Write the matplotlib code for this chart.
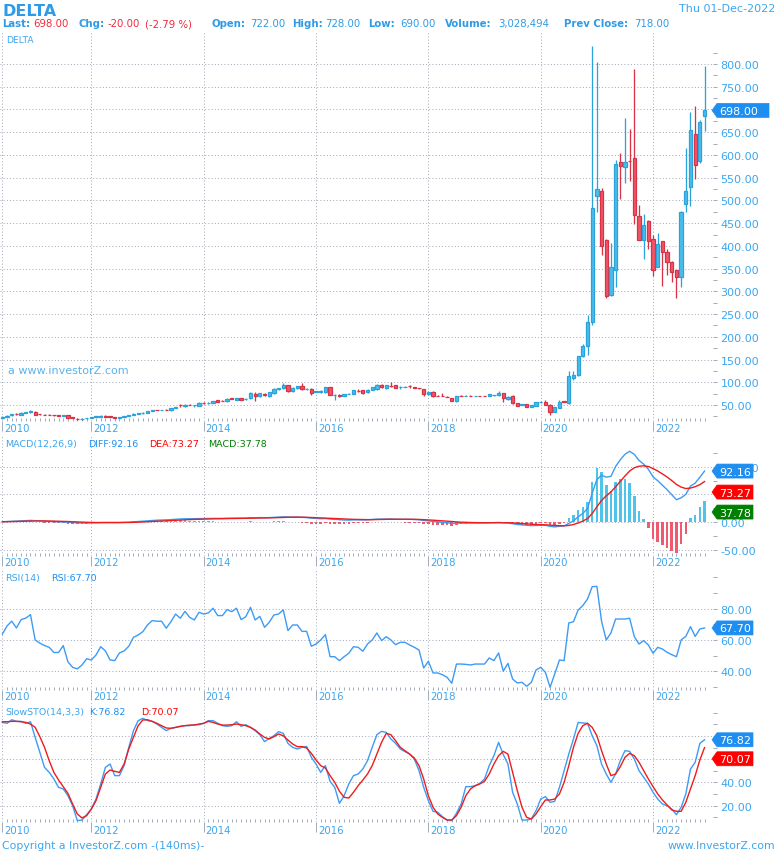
import numpy as np
import matplotlib
matplotlib.use("Agg")
import matplotlib.pyplot as plt
from matplotlib.patches import Polygon

plt.rcParams['font.family'] = ['DejaVu Sans']

# ---------------- data (monthly bars, Jun-2010 .. Dec-2022) ----------------
OPEN = [21,24,27,31,28,33,34,35,30,29,
        28.5,27.5,27,26,28,23,20,19,20.5,22,
        23,24,26.5,25.5,23,22,23,25.5,27.5,31,
        31.6,33,37,39.5,39,39.5,38,43,49.5,47,
        50.5,50,48,54.5,54,54,61,59.5,58,64.5,
        61,65,64,65,75,69,75,69,76,86,
        87,93,80,87,91,85.5,86,79.5,78,78,
        89,72.5,73,70,74.5,74,80.5,82,78,84,
        85,95,87.5,92,93,89.5,89.5,92.5,88.5,87.5,
        85,74,79,70.5,70.5,68,65,58,70.5,70,
        70.3,70,70.3,70.2,70.6,71,71,76,62.5,70,
        54,51,51.5,45.6,48.5,56,56,51,34.5,44,
        58,53.7,110,116,157,179,232,509,521,412,
        292.5,348,583.6,574,586.5,593,465,413,454,415,
        354,410,387,363.5,346.7,330.6,493,530,647,586,
        685]
HIGH = [25,27,31,32,34,35,39,36,31,30,
        29.5,28.5,28,29,29,24,21,21,21.5,24,
        25.5,27,27,26,23.5,24,26.5,28,31.5,33,
        34,37.5,40,40,40,40.5,43.5,46.5,52,52,
        51.5,51,56,55.5,55.5,59.5,61.5,60,64.5,65,
        65.5,65.5,65,79,79,77,76,79,87,87.5,
        99,94,89,92,99,88,87,81,82,90,
        90,75,74,74,76,83,86,83,85,90,
        96,96,94,101,94,91,91,95,90,88,
        86,80,80,72,76,69,66,70.5,71,71,
        71,70.8,70.8,70.8,74.5,72.5,80,77,69,71,
        55,52.5,52,50,57,59,61.5,52,46,61,
        58.5,125,125,157,184,248,839,804,528,415,
        406,589,604,681,657,789,489.5,471,456,423.6,
        428,410,393,366.5,347,475.6,615,693.6,707,677.5,
        796]
LOW = [20,23,26,29,27,32,33,27,28,27,
       27,26,25.5,25,21.5,20.5,18,18,19,21,
       22.5,23.5,23,22.5,21,21.5,22.5,25,27,30,
       31,32.5,36,38,38,38,37,42.5,46,46,
       49,45,47.5,53,53,53.5,56,58,57.5,63,
       60.5,61.5,60,64,58,67,70,68,75,84,
       86,79,79,86,84,84,72,78,77,77,
       71,61,68,69,73.5,73.5,79,75,77,83,
       84,88,86,90,87,85,88.5,87,87,85.5,
       70.6,73,67,69,69,66.5,58.5,57.5,69,69.5,
       69,69.5,69.5,69.3,70,70.5,70.5,56,62,53,
       47.5,50.5,45,44.5,48,55,49.5,27,34,43.5,
       56,53,104,113,156,161,226,474,380,285,
       290,310,503,538,543,448,413,371,394,334,
       353,312,336,319.6,286,310,473.5,488,548,582,
       653]
CLOSE = [24,26,31,30,33,34,37,28,29.5,28,
         28,27,26.5,28,22,21,19,19.5,21,23,
         25,26.5,24.5,23,22,23,25.7,27,31,31.6,
         33,37,39,39,39.2,39,43,46,49,51,
         50,50.5,55,54,54.5,59,57,59,64,64,
         65,62,64.2,77,70,76,71,78,86,86.5,
         93,80,88,91,85,86,76,80,81,89,
         72,73,69,73.5,75,82,80,76,84,89,
         95,89,93,91.5,87.5,90,90,92,88,87,
         74,79,70,70,70,67.5,59,70,70,70.3,
         70,70.3,70,70,74,71.5,77,65,68,54,
         48,51.5,45.6,49,56,56.6,50,34.5,45.6,56.6,
         57,113.7,116,157,179,232,484,526,400,290,
         352.6,580,576,585,586,468,413,445.6,411,347,
         404,387,363.5,343,330.6,473.4,519.7,655,578,671.6,
         698]

DIFF = [1.0,1.4,1.9,2.2,2.6,3.0,3.4,3.0,2.6,2.2,
        1.8,1.4,1.0,0.8,0.2,-0.3,-0.9,-1.2,-1.3,-1.2,
        -0.9,-0.6,-0.5,-0.5,-0.6,-0.5,-0.2,0.2,0.8,1.4,
        2.0,2.6,3.3,3.8,4.1,4.3,4.8,5.4,6.0,6.3,
        6.4,6.4,6.7,6.8,6.9,7.1,7.1,7.0,7.3,7.4,
        7.6,7.5,7.5,8.3,8.2,8.4,8.2,8.4,9.0,9.4,
        9.9,9.5,9.3,9.4,8.9,8.5,7.4,6.9,6.4,6.8,
        5.8,5.2,4.5,4.1,3.9,4.3,4.4,4.2,4.4,5.0,
        5.7,5.8,6.0,6.0,5.6,5.5,5.3,5.3,4.9,4.5,
        3.2,2.7,1.6,0.8,0.1,-0.6,-1.8,-1.6,-1.5,-1.4,
        -1.4,-1.3,-1.3,-1.2,-0.8,-0.7,-0.2,-0.9,-1.2,-2.5,
        -3.9,-4.6,-5.5,-6.0,-5.7,-5.3,-5.4,-7.3,-8.2,-7.2,
        -6.5,-2.1,2.5,9.8,16,24.7,52.3,76.9,84.6,81.2,
        82.6,100.3,112.5,122.3,127.7,122.2,111.3,104.6,95.3,81.6,
        74.8,66.7,58.6,49.5,40.6,44.1,50.2,65.1,70.5,81,
        92.16]
DEA = [1.0,1.1,1.3,1.5,1.7,2.0,2.3,2.4,2.5,2.4,
       2.3,2.1,1.9,1.7,1.4,1.1,0.7,0.3,0.0,-0.2,
       -0.4,-0.4,-0.4,-0.4,-0.5,-0.5,-0.4,-0.3,-0.1,0.2,
       0.6,1.0,1.5,2.0,2.4,2.8,3.2,3.6,4.1,4.5,
       4.9,5.2,5.5,5.8,6.0,6.2,6.4,6.5,6.7,6.8,
       7.0,7.1,7.2,7.4,7.6,7.8,7.9,8.0,8.2,8.5,
       8.8,9.0,9.1,9.2,9.1,9.0,8.7,8.3,7.9,7.7,
       7.3,6.9,6.4,5.9,5.5,5.3,5.1,4.9,4.8,4.8,
       5.0,5.2,5.3,5.5,5.5,5.5,5.5,5.5,5.4,5.2,
       4.8,4.4,3.8,3.2,2.6,1.9,1.2,0.6,0.2,-0.1,
       -0.4,-0.6,-0.7,-0.8,-0.8,-0.8,-0.7,-0.7,-0.8,-1.1,
       -1.7,-2.3,-3.0,-3.6,-4.0,-4.3,-4.5,-5.1,-5.7,-6.0,
       -6.3,-5.6,-4.0,-1.25,2.2,6.7,15.8,28,39.3,47.7,
       54.7,63.8,73.5,83.3,92.2,98.2,100.8,101.6,100.3,96.6,
       92.2,87.1,81.4,75,68.1,63.3,60.7,61.6,64,67.8,
       73.27]
MACD_HIST = [0,0.6,1.2,1.4,1.8,2.0,2.2,1.2,0.2,-0.4,
             -1.0,-1.4,-1.8,-1.8,-2.4,-2.8,-3.2,-3.0,-2.6,-2.0,
             -1.0,-0.4,-0.2,-0.2,-0.2,0,0.4,1.0,1.8,2.4,
             2.8,3.2,3.6,3.6,3.4,3.0,3.2,3.6,3.8,3.6,
             3.0,2.4,2.4,2.0,1.8,1.8,1.4,1.0,1.2,1.2,
             1.2,0.8,0.6,1.8,1.2,1.2,0.6,0.8,1.6,1.8,
             2.2,1.0,0.4,0.4,-0.4,-1.0,-2.6,-2.8,-3.0,-1.8,
             -3.0,-3.4,-3.8,-3.6,-3.2,-2.0,-1.4,-1.4,-0.8,0.4,
             1.4,1.2,1.4,1.0,0.2,0,-0.4,-0.4,-1.0,-1.4,
             -3.2,-3.4,-4.4,-4.8,-5.0,-5.0,-6.0,-4.4,-3.4,-2.6,
             -2.0,-1.4,-1.2,-0.8,0,0.2,1.0,-0.4,-0.8,-2.8,
             -4.4,-4.6,-5.0,-4.8,-3.4,-2.0,-1.8,-4.4,-5.0,-2.4,
             -0.4,7,13,22,27.6,36,73,97.7,90.5,67,
             55.8,73,78,78,71,48,21,6,-10,-30,
             -34.8,-40.8,-45.6,-51,-55,-38.4,-21,7,13,27,
             37.78]
RSI = [63.8,69,72,67.7,73,74,76.2,60,58,56.4,
       55.3,52,52,56.4,46,42.5,41.5,44,48,47.2,
       50.4,55.7,53,47.2,46.8,51.7,53,56,61.7,63.2,
       65.3,69.6,72.4,72,72,67.5,71.7,76.6,73.9,78.3,
       74.5,72.8,77.7,76.6,77.3,80.3,75.6,75.6,79.4,78.1,
       80.3,73,74.9,80.9,72.8,75.1,68.1,71.3,76,76.6,
       79.2,66,69.6,69.6,65.5,65.5,56,57.4,60,63.4,
       49.3,49.3,46.8,49.3,51.5,55.7,55.3,52.8,57.4,60,
       64.5,59.6,62.1,60,57,58.5,58.5,56.8,55.3,53.6,
       42.1,46.4,38.9,38.9,37.8,36.1,32.3,44.6,44.6,44.4,
       44,44.6,44.6,44.6,48.5,46.8,51.7,40,45,35,
       32.5,32.9,30.4,32.9,40.8,42.5,39.3,29.7,38.3,47.2,
       46.8,70.9,71.7,79.2,82,86.2,94.1,94.3,72,60,
       64.5,73.4,73.4,73.4,73.9,62.1,57.4,59.6,56.8,51.5,
       55.3,54.2,52.1,50.6,49.3,60,62.3,68.5,62.3,67,
       67.7]
STO_K = [91.8,91,94.1,92.7,92.7,91,92.4,78.9,66,53,
         48.7,43,35.8,34.4,28.6,20,7.1,7.6,12.2,17.1,
         25.7,38.7,53,55.9,45.9,45.9,54.5,70.3,84.7,93.3,
         95.3,93.3,92.7,90.4,87.5,84.7,86.7,87.5,88.4,89,
         89,89.8,89.8,91,93.3,93.3,91,89,88.4,89,
         92.4,88.4,89.8,87.5,84.7,81.2,75.2,78,80.3,83.8,
         82.4,73.7,70.3,68.9,70.3,71.1,61.7,55.9,48.7,54.5,
         41,35.8,22,28.6,38.7,45.9,47.3,51.6,58.8,70.3,
         81.2,84.1,83.2,77.5,73.7,68.9,66.6,64.5,60.2,50.2,
         35.8,24.3,15.1,14.3,10.5,7.6,7.1,13.4,21.4,36.4,
         36.4,37.2,39.3,43,54.5,63.1,74.6,64,55.9,31.5,
         21.4,7.6,7.6,8.5,15.7,25.7,27.8,22.9,23.7,35.8,
         50.2,64.5,77.5,91.8,91.3,91,80.3,71.7,55.9,47.3,
         40.1,47.3,58.8,67.4,66.8,60.2,50.2,44.4,38.7,31.5,
         25.7,21.4,20,17.1,12.2,18.6,30.1,51.6,57.4,73.7,
         76.82]
STO_D = [92.4,92.4,92.7,92.7,92.4,91.8,90.4,87.5,79.5,70.3,
         58.8,48.7,42.1,36.4,30.6,21.4,12.8,9.4,11.4,17.1,
         24.3,35.8,47.3,50.7,49.6,48.7,55.9,68.9,78.9,89,
         93.9,94.1,92.7,91,89,87,86.7,87.5,88.4,89,
         89.5,89.5,90.4,91,92.7,91.8,90.4,89.5,89.5,89.8,
         90.4,89.8,89,87.5,85.2,81.8,78.9,77.5,79.5,81.8,
         80.3,76.6,73.2,70.9,70.9,69.7,65.1,59.4,54.5,52.5,
         45.9,40.1,32.4,27.2,26.6,31.5,37.2,42.1,47.3,54.5,
         64.5,74.6,82.4,81.2,76,70.3,67.4,64.5,61.1,54.5,
         43,28.6,18.6,12.8,9.9,7.6,7.6,11.4,18.6,28.6,
         34.4,37.2,38.7,41,47.3,55.9,63.1,66.8,64.5,48.7,
         32.9,18.6,9.9,8.5,12.8,19.1,24.9,24.9,25.7,30.1,
         40.1,54.5,70.3,82.4,89,91,87.5,80.3,67.4,55.9,
         45.9,47.3,53.6,61.7,65.1,63.1,57.4,50.2,43,36.4,
         30.1,24.9,20.6,16.3,15.1,15.1,22.9,34.4,45.9,59.4,
         70.07]

YEAR_LABELS = ['2010', '2012', '2014', '2016', '2018', '2020', '2022']
YEAR_IDX = [0, 19, 43, 67, 91, 115, 139]

# ---------------- styling ----------------
W, H = 777, 854
PX = 0.72
GRIDC = '#A4ABBA'
LBLC = '#3CA6EE'
BLUE_TXT = '#2E9BE6'
RED_TXT = '#F0283C'
UP_FILL, UP_EDGE = '#4CBCEA', '#2AA3DC'
DN_FILL, DN_EDGE = '#EF5668', '#D93247'
LINE_BLUE = '#3D9BF5'
LINE_RED = '#EE1C1C'

fig = plt.figure(figsize=(W / 100, H / 100), dpi=100)
fig.patch.set_facecolor('white')

N = len(CLOSE)
idx = np.arange(N)
I_LEFT, I_RIGHT = -0.513, 151.7
XR = 712.5


def panel(top, bottom, ylim, yticks, ylabels, yminor, lab_off=9.5):
    ax = fig.add_axes([0, 1 - bottom / H, XR / W, (bottom - top) / H])
    ax.set_xlim(I_LEFT, I_RIGHT)
    ax.set_ylim(*ylim)
    for s in ax.spines.values():
        s.set_visible(False)
    ax.set_facecolor('none')
    ax.yaxis.tick_right()
    ax.set_yticks(yticks)
    ax.set_yticks(yminor, minor=True)
    ax.set_yticklabels(ylabels)
    ax.set_xticks(YEAR_IDX)
    ax.set_xticks(idx, minor=True)
    ax.tick_params(axis='x', which='minor', direction='in', length=3.5 * PX,
                   width=PX, color=GRIDC, labelbottom=False)
    ax.tick_params(axis='x', which='major', direction='out', length=10 * PX,
                   width=PX, color=GRIDC, labelbottom=False)
    ax.tick_params(axis='y', which='both', direction='out', length=4 * PX,
                   width=PX, color=GRIDC, labelsize=8, labelcolor=LBLC, pad=4 * PX)
    ax.grid(True, which='major', axis='both', color=GRIDC,
            linestyle=(0, (1, 2.2)), linewidth=PX)
    ax.set_axisbelow(True)
    for yi, lab in zip(YEAR_IDX, YEAR_LABELS):
        ax.annotate(lab, xy=(yi, 0), xycoords=('data', 'axes fraction'),
                    xytext=(2 * PX, -lab_off * PX), textcoords='offset points',
                    ha='left', va='baseline', fontsize=7.3, color=LBLC)
    return ax


def fmt(vals, hide=()):
    return ['' if v in hide else '%.2f' % v for v in vals]


# ---------------- price panel ----------------
p_ticks = list(range(50, 801, 50))
axp = panel(32, 422, (14.8, 872.6), p_ticks, fmt(p_ticks),
            list(range(25, 826, 50)), lab_off=10)
O = np.array(OPEN); Hh = np.array(HIGH); L = np.array(LOW); C = np.array(CLOSE)
up = C >= O
edge = np.where(up, UP_EDGE, DN_EDGE)
fill = np.where(up, UP_FILL, DN_FILL)
axp.vlines(idx, L, Hh, colors=edge, linewidth=PX * 1.3, zorder=3)
axp.bar(idx, np.abs(C - O), bottom=np.minimum(O, C), width=0.7, color=fill,
        edgecolor=edge, linewidth=0.9, zorder=4)
axp.text(6 / XR, 1 - (42.7 - 32) / (422 - 32), 'DELTA', transform=axp.transAxes,
         fontsize=6.6, color=LBLC, va='baseline', ha='left')
axp.text(8 / XR, 1 - (374.5 - 32) / (422 - 32), 'a www.investorZ.com',
         transform=axp.transAxes, fontsize=8, color='#4AAAE8', va='baseline',
         ha='left', alpha=0.9)

# ---------------- MACD panel ----------------
m_ticks = [-50, 0, 50, 100]
axm = panel(436, 556.5, (-59.7, 157), m_ticks, fmt(m_ticks, hide=(50,)),
            [-25, 25, 75, 125])
hist = np.array(MACD_HIST)
axm.bar(idx, hist, width=0.55, color=np.where(hist >= 0, '#4FC3EA', '#EE5A6E'),
        linewidth=0, zorder=3)
axm.plot(idx, DIFF, color=LINE_BLUE, lw=1.0, zorder=4)
axm.plot(idx, DEA, color=LINE_RED, lw=1.0, zorder=4)

# ---------------- RSI panel ----------------
r_ticks = [40, 60, 80]
axr = panel(570, 691, (28, 105.4), r_ticks, fmt(r_ticks), [30, 50, 70, 90, 100])
axr.plot(idx, RSI, color=LINE_BLUE, lw=1.0, zorder=4)

# ---------------- Stoch panel ----------------
s_ticks = [20, 40, 60, 80]
axs = panel(703, 823, (5.9, 109.4), s_ticks, fmt(s_ticks, hide=(60, 80)),
            [10, 30, 50, 70, 90, 100], lab_off=11)
axs.plot(idx, STO_K, color=LINE_BLUE, lw=1.0, zorder=4)
axs.plot(idx, STO_D, color=LINE_RED, lw=1.0, zorder=5)

# ---------------- overlay (pixel coordinates) ----------------
ov = fig.add_axes([0, 0, 1, 1], zorder=20)
ov.set_xlim(0, W)
ov.set_ylim(H, 0)
ov.axis('off')
ov.patch.set_visible(False)


def ypix(ax, v):
    return H - ax.transData.transform((0, v))[1]


def badge(yc, text, color, x1=753):
    hh = 7
    poly = Polygon([(712, yc), (717, yc - hh), (x1, yc - hh), (x1, yc + hh),
                    (717, yc + hh)], closed=True, facecolor=color,
                   edgecolor=color, lw=0.5)
    ov.add_patch(poly)
    ov.text(719, yc + 0.5, text, color='white', fontsize=8, va='center',
            ha='left')


badge(ypix(axp, CLOSE[-1]), '%.2f' % CLOSE[-1], '#1E8EF0', x1=769)

y1 = ypix(axm, DIFF[-1])
y2 = max(ypix(axm, DEA[-1]), y1 + 21)
y3 = max(ypix(axm, MACD_HIST[-1]), y2 + 20)
badge(y1, '%.2f' % DIFF[-1], '#1E8EF0')
badge(y2, '%.2f' % DEA[-1], '#FF0000')
badge(y3, '%.2f' % MACD_HIST[-1], '#008000')

badge(ypix(axr, RSI[-1]), '%.2f' % RSI[-1], '#1E8EF0')

k1 = ypix(axs, STO_K[-1])
k2 = max(ypix(axs, STO_D[-1]), k1 + 19)
badge(k1, '%.2f' % STO_K[-1], '#1E8EF0')
badge(k2, '%.2f' % STO_D[-1], '#FF0000')

# header
ov.text(2, 15.5, 'DELTA', fontsize=11.5, fontweight='bold', color=BLUE_TXT,
        va='baseline', ha='left')
ov.text(775.5, 11.8, 'Thu 01-Dec-2022', fontsize=8, color=LBLC,
        va='baseline', ha='right')
hdr = [(2.5, 'Last:', True, BLUE_TXT), (33.7, '698.00', False, RED_TXT),
       (78.3, 'Chg:', True, BLUE_TXT), (108, '-20.00', False, RED_TXT),
       (144.7, '(-2.79 %)', False, RED_TXT), (212, 'Open:', True, BLUE_TXT),
       (250, '722.00', False, BLUE_TXT), (292.4, 'High:', True, BLUE_TXT),
       (325.6, '728.00', False, BLUE_TXT), (367.7, 'Low:', True, BLUE_TXT),
       (400.4, '690.00', False, BLUE_TXT), (445, 'Volume:', True, BLUE_TXT),
       (498.5, '3,028,494', False, BLUE_TXT), (564, 'Prev Close:', True, BLUE_TXT),
       (634, '718.00', False, BLUE_TXT)]
for x, t, b, c in hdr:
    ov.text(x, 27.3, t, fontsize=7.3, fontweight='bold' if b else 'normal',
            color=c, va='baseline', ha='left')

# panel legends
ov.text(5, 447, 'MACD(12,26,9)', fontsize=6.8, color=LBLC, va='baseline')
ov.text(88, 447, 'DIFF:%.2f' % DIFF[-1], fontsize=6.8, color='#1E8EF0', va='baseline')
ov.text(148.7, 447, 'DEA:%.2f' % DEA[-1], fontsize=6.8, color='#FF0000', va='baseline')
ov.text(208, 447, 'MACD:%.2f' % MACD_HIST[-1], fontsize=6.8, color='#008000', va='baseline')
ov.text(5, 580.7, 'RSI(14)', fontsize=6.8, color=LBLC, va='baseline')
ov.text(51, 580.7, 'RSI:%.2f' % RSI[-1], fontsize=6.8, color='#1E8EF0', va='baseline')
ov.text(5, 715, 'SlowSTO(14,3,3)', fontsize=6.8, color=LBLC, va='baseline')
ov.text(89, 715, 'K:%.2f' % STO_K[-1], fontsize=6.8, color='#1E8EF0', va='baseline')
ov.text(141, 715, 'D:%.2f' % STO_D[-1], fontsize=6.8, color='#FF0000', va='baseline')

# footer
ov.text(2.5, 849, 'Copyright a InvestorZ.com -(140ms)-', fontsize=7.8,
        color=LBLC, va='baseline', ha='left')
ov.text(775.5, 849, 'www.InvestorZ.com', fontsize=7.8, color=LBLC,
        va='baseline', ha='right')

fig.savefig('out.png', dpi=100, facecolor='white')
